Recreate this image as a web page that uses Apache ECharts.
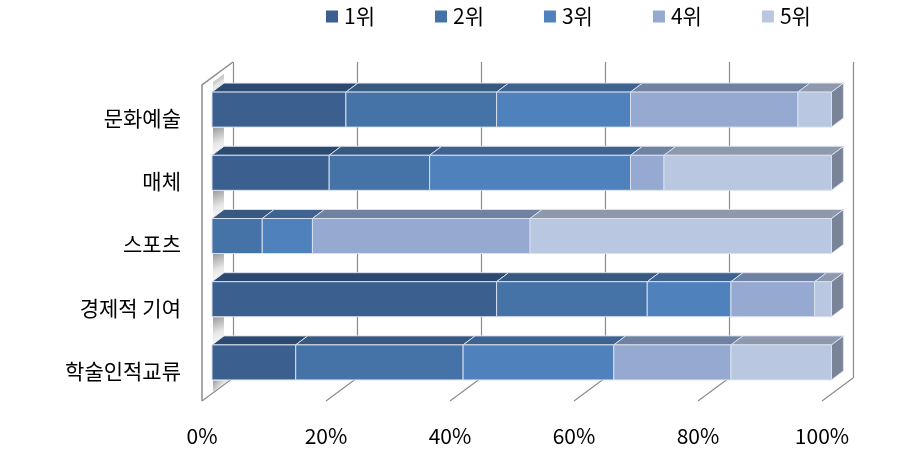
<!DOCTYPE html>
<html><head><meta charset="utf-8">
<style>html,body{margin:0;padding:0;background:#fff}#c{width:913px;height:450px}</style>
<script src="https://cdn.jsdelivr.net/npm/echarts@6/dist/echarts.min.js"></script>
</head><body><div id="c"></div>
<script>
const categories = ['문화예술','매체','스포츠','경제적 기여','학술인적교류'];
const rankNames = ['1위','2위','3위','4위','5위'];
const rank1 = [21.6,18.9,0,45.9,13.5];
const rank2 = [24.3,16.2,8.1,24.3,27.0];
const rank3 = [21.6,32.4,8.1,13.5,24.3];
const rank4 = [27.0,5.4,35.1,13.5,18.9];
const rank5 = [5.4,27.0,48.6,2.7,16.2];
const xTicks = [0,20,40,60,80,100];
const frontColors = ['#3B5F8F','#4573A8','#4F81BD','#95A9D1','#BAC7E0'];
const topColors = ['#2C4A70','#37597F','#3E6391','#6F82A2','#8F99AE'];
const sideColor = '#7A8499';
const font = '"Noto Sans CJK KR","Noto Sans",sans-serif';
const ranks = [rank1,rank2,rank3,rank4,rank5];
const DX = 12, DY = 9, BAR = 35;

function barSeries(r){
  const data = categories.map((c,i)=>{
    let s = 0; for(let k=0;k<r;k++) s += ranks[k][i];
    return [i, s, ranks[r][i]];
  });
  return {
    type:'custom', name:rankNames[r], xAxisIndex:0, yAxisIndex:0, z:5+r,
    itemStyle:{color:frontColors[r]},
    clip:false, data,
    encode:{x:1,y:0},
    renderItem(params, api){
      const v = api.value(2);
      if(!v) return {type:'group',children:[]};
      const a = api.coord([api.value(1), api.value(0)]);
      const b = api.coord([api.value(1)+v, api.value(0)]);
      const x0=a[0], x1=b[0], y0=a[1]-BAR/2, y1=a[1]+BAR/2;
      const edge='rgba(218,225,238,0.95)';
      return {type:'group',children:[
        {type:'polygon',shape:{points:[[x1,y0],[x1+DX,y0-DY],[x1+DX,y1-DY],[x1,y1]]},style:{fill:sideColor,stroke:edge,lineWidth:1}},
        {type:'polygon',shape:{points:[[x0,y0],[x0+DX,y0-DY],[x1+DX,y0-DY],[x1,y0]]},style:{fill:topColors[r],stroke:edge,lineWidth:1}},
        {type:'rect',shape:{x:x0,y:y0,width:x1-x0,height:BAR},style:{fill:frontColors[r],stroke:edge,lineWidth:1}}
      ]};
    }
  };
}

const wallSeries = {
  type:'custom', xAxisIndex:0, yAxisIndex:0, z:3, clip:false, silent:true,
  data:[-1].concat(categories.map((c,i)=>i)).map(i=>[0,0,i]), encode:{x:0,y:1},
  renderItem(params, api){
    const i = api.value(2);
    const cs = params.coordSys;
    const step = cs.height/categories.length;
    const c = cs.y + (i+0.5)*step;
    const x = cs.x+1, w = 11;
    let pts;
    if(i<0) pts = [[x,cs.y+4],[x+w,cs.y-4],[x+w,cs.y+6],[x,cs.y+14]];
    else if(i===categories.length-1) pts = [[x,c+18],[x+w+4,c+18],[x,c+29]];
    else pts = [[x,c+18],[x+w,c+18],[x+w,c+36],[x,c+45]];
    return {type:'polygon',shape:{points:pts},
      style:{fill:{type:'linear',x:0,y:0,x2:1,y2:1,colorStops:[
        {offset:0,color:'#9C9C9C'},{offset:0.55,color:'#E6E6E6'},{offset:1,color:'#FFFFFF'}]}}};
  }
};

const frameSeries = {
  type:'custom', xAxisIndex:0, yAxisIndex:0, z:2, clip:false, silent:true,
  data:xTicks.map(t=>[t,0]), encode:{x:0,y:1},
  renderItem(params, api){
    const t = api.value(0);
    const cs = params.coordSys;
    const x = api.coord([t,0])[0];
    const by = cs.y+cs.height;
    const line = {stroke:'#8C8C8C',lineWidth:1.2,fill:null};
    const kids = [{type:'line',shape:{x1:x-10,y1:by+7,x2:x+21,y2:by-16},style:line}];
    if(t===0){
      kids.push({type:'polyline',shape:{points:[[x-10,by+7],[x-10,cs.y+7],[x+21,cs.y-16]]},style:{stroke:'#8C8C8C',lineWidth:1.5,fill:null}});
    }
    return {type:'group',children:kids};
  }
};

const hiddenY = i => ({type:'value',gridIndex:i,show:false,min:0,max:1});
const option = {
  animation:false,
  backgroundColor:'#fff',
  textStyle:{fontFamily:font},
  legend:{
    left:326, top:6, padding:0, icon:'rect', itemWidth:12, itemHeight:12, itemGap:60,
    data:rankNames, selectedMode:false,
    textStyle:{fontSize:21,color:'#000',fontFamily:font,padding:[0,0,0,1]}
  },
  grid:[
    {left:212,width:620,top:78,height:316},
    {left:202,width:620,top:85,height:316},
    {left:233,width:620,top:62,height:316}
  ],
  xAxis:[
    {type:'value',gridIndex:0,min:0,max:100,interval:20,show:false},
    {type:'value',gridIndex:1,min:0,max:100,interval:20,axisLine:{show:false},axisTick:{show:false},splitLine:{show:false},
      axisLabel:{formatter:'{value}%',fontSize:21,color:'#000',margin:25,fontFamily:font}},
    {type:'value',gridIndex:2,min:0,max:100,interval:20,axisLine:{show:false},axisTick:{show:false},axisLabel:{show:false},
      splitLine:{show:true,lineStyle:{color:'#8C8C8C',width:1.2}}}
  ],
  yAxis:[
    {type:'category',gridIndex:0,inverse:true,data:categories,axisLine:{show:false},axisTick:{show:false},splitLine:{show:false},
      axisLabel:{fontSize:21,lineHeight:17,color:'#000',margin:31,fontFamily:font,verticalAlign:'top'}},
    hiddenY(1),hiddenY(2)
  ],
  series:[frameSeries,wallSeries].concat(rankNames.map((n,r)=>barSeries(r)))
};
const chart = echarts.init(document.getElementById('c'),null,{renderer:'canvas'});
chart.setOption(option);
</script></body></html>
